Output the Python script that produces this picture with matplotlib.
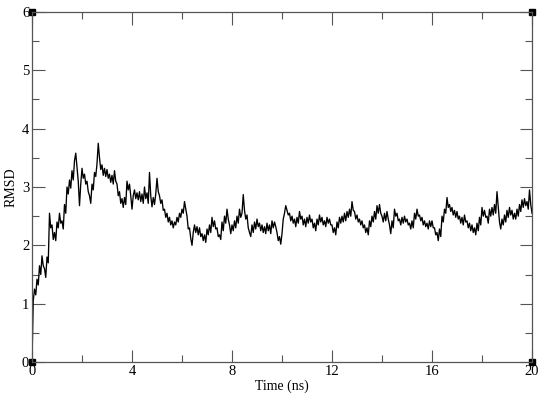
import numpy as np
import matplotlib
matplotlib.use("Agg")
import matplotlib.pyplot as plt

# RMSD values, 0.05 ns apart, one row per ns
rmsd_rows = [
    [0.00, 1.05, 1.25, 1.15, 1.42, 1.32, 1.65, 1.50, 1.82, 1.65, 1.60, 1.45, 1.80, 1.70, 2.55, 2.30, 2.35, 2.10, 2.22, 2.08],
    [2.40, 2.30, 2.55, 2.38, 2.42, 2.28, 2.70, 2.55, 3.00, 2.88, 3.12, 2.98, 3.28, 3.12, 3.45, 3.58, 3.35, 3.10, 2.68, 3.05],
    [3.32, 3.15, 3.22, 3.05, 3.10, 2.92, 2.85, 2.72, 3.05, 2.95, 3.25, 3.18, 3.40, 3.75, 3.50, 3.30, 3.38, 3.20, 3.32, 3.18],
    [3.30, 3.15, 3.22, 3.08, 3.20, 3.05, 3.28, 3.10, 3.05, 2.85, 2.92, 2.72, 2.80, 2.65, 2.82, 2.70, 3.10, 2.95, 3.05, 2.85],
    [2.62, 2.85, 2.95, 2.80, 2.90, 2.78, 2.92, 2.75, 2.88, 2.72, 3.00, 2.80, 2.90, 2.72, 3.25, 2.85, 2.66, 2.82, 2.70, 2.88],
    [3.15, 2.92, 2.85, 2.72, 2.78, 2.60, 2.62, 2.48, 2.55, 2.40, 2.48, 2.35, 2.42, 2.30, 2.40, 2.35, 2.48, 2.40, 2.55, 2.48],
    [2.62, 2.55, 2.75, 2.62, 2.50, 2.28, 2.30, 2.12, 2.00, 2.22, 2.35, 2.22, 2.32, 2.18, 2.30, 2.15, 2.20, 2.08, 2.18, 2.05],
    [2.28, 2.18, 2.35, 2.22, 2.48, 2.32, 2.42, 2.28, 2.30, 2.15, 2.18, 2.10, 2.40, 2.25, 2.50, 2.38, 2.62, 2.45, 2.35, 2.20],
    [2.35, 2.25, 2.42, 2.30, 2.50, 2.38, 2.62, 2.48, 2.55, 2.87, 2.60, 2.45, 2.52, 2.30, 2.22, 2.15, 2.35, 2.22, 2.40, 2.28],
    [2.45, 2.32, 2.38, 2.25, 2.35, 2.22, 2.32, 2.20, 2.38, 2.25, 2.35, 2.20, 2.42, 2.30, 2.40, 2.32, 2.22, 2.08, 2.15, 2.02],
    [2.20, 2.45, 2.55, 2.68, 2.60, 2.52, 2.55, 2.42, 2.50, 2.38, 2.45, 2.32, 2.48, 2.38, 2.58, 2.45, 2.50, 2.35, 2.45, 2.32],
    [2.48, 2.38, 2.52, 2.40, 2.45, 2.30, 2.38, 2.25, 2.45, 2.35, 2.52, 2.40, 2.48, 2.35, 2.42, 2.32, 2.48, 2.38, 2.45, 2.35],
    [2.35, 2.22, 2.30, 2.18, 2.40, 2.30, 2.48, 2.38, 2.50, 2.40, 2.55, 2.42, 2.58, 2.48, 2.62, 2.50, 2.75, 2.60, 2.58, 2.45],
    [2.52, 2.40, 2.45, 2.35, 2.42, 2.30, 2.35, 2.22, 2.30, 2.18, 2.42, 2.32, 2.50, 2.40, 2.58, 2.45, 2.68, 2.55, 2.70, 2.55],
    [2.50, 2.40, 2.55, 2.42, 2.58, 2.45, 2.35, 2.20, 2.42, 2.30, 2.62, 2.50, 2.55, 2.42, 2.45, 2.35, 2.48, 2.38, 2.50, 2.40],
    [2.45, 2.35, 2.38, 2.28, 2.42, 2.30, 2.55, 2.45, 2.62, 2.50, 2.52, 2.42, 2.48, 2.35, 2.42, 2.32, 2.38, 2.28, 2.42, 2.32],
    [2.42, 2.30, 2.30, 2.18, 2.22, 2.08, 2.28, 2.15, 2.50, 2.40, 2.62, 2.55, 2.82, 2.65, 2.70, 2.58, 2.65, 2.52, 2.60, 2.48],
    [2.58, 2.45, 2.50, 2.38, 2.48, 2.35, 2.52, 2.40, 2.42, 2.30, 2.38, 2.25, 2.35, 2.22, 2.30, 2.18, 2.38, 2.25, 2.48, 2.35],
    [2.65, 2.50, 2.60, 2.48, 2.50, 2.38, 2.62, 2.50, 2.65, 2.52, 2.70, 2.55, 2.92, 2.65, 2.40, 2.28, 2.45, 2.35, 2.52, 2.40],
    [2.60, 2.48, 2.65, 2.52, 2.60, 2.45, 2.55, 2.45, 2.62, 2.50, 2.70, 2.58, 2.78, 2.65, 2.80, 2.68, 2.75, 2.62, 2.95, 2.70],
    [2.55],
]
rmsd = np.array([v for row in rmsd_rows for v in row])
time_ns = np.linspace(0, 20, len(rmsd))

x_ticks = [0, 4, 8, 12, 16, 20]
y_ticks = [0, 1, 2, 3, 4, 5, 6]

plt.rcParams['font.family'] = ['Liberation Serif', 'DejaVu Serif']

fig = plt.figure(figsize=(5.5, 4.01), dpi=100)
ax = fig.add_axes([32/550, 39/401, 500/550, 350/401])

ax.plot(time_ns, rmsd, color='black', lw=0.95)

ax.set_xlim(0, 20)
ax.set_ylim(0, 6)
ax.set_xticks(x_ticks)
ax.set_yticks(y_ticks)
ax.set_xticks([2, 6, 10, 14, 18], minor=True)
ax.set_yticks([0.5, 1.5, 2.5, 3.5, 4.5, 5.5], minor=True)
ax.tick_params(which='both', direction='in', top=True, right=True,
               color='#555555', width=0.8, labelsize=10.5)
ax.tick_params(which='major', length=9, pad=2)
ax.tick_params(which='minor', length=5)
for s in ax.spines.values():
    s.set_color('#555555')
    s.set_linewidth(0.9)

ax.set_xlabel('Time (ns)', fontsize=10, labelpad=1)
ax.set_ylabel('RMSD', fontsize=10, labelpad=3)

# corner square markers (xmgrace style)
for cx, cy in [(0, 0), (0, 1), (1, 0), (1, 1)]:
    ax.plot(cx, cy, marker='s', ms=4, color='black', transform=ax.transAxes, clip_on=False)

fig.savefig('out.png', dpi=100)
